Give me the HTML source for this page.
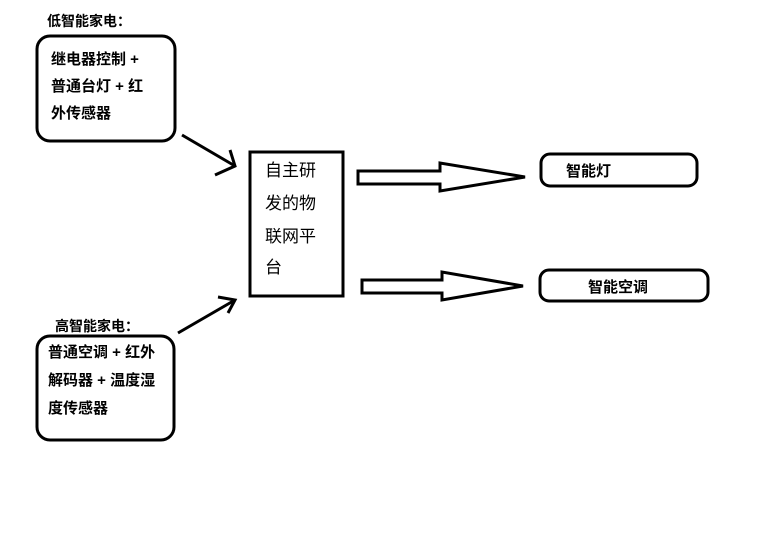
<!DOCTYPE html>
<html><head><meta charset="utf-8"><style>
html,body{margin:0;padding:0;background:#fff;}
svg{display:block;}
text{font-family:"Liberation Sans","Noto Sans CJK SC","WenQuanYi Zen Hei",sans-serif;fill:#000;}
.b{font-weight:bold;font-size:15px;}
.n{font-size:17px;}
</style></head><body>
<svg width="768" height="556" viewBox="0 0 768 556" xmlns="http://www.w3.org/2000/svg">
<g fill="none" stroke="#000" stroke-width="3" stroke-linejoin="miter">
<rect x="37" y="36" width="138" height="105" rx="13"/>
<rect x="37" y="336" width="137" height="104" rx="13"/>
<rect x="250" y="152" width="93" height="144"/>
<rect x="541" y="154" width="156" height="32" rx="9"/>
<rect x="540" y="270" width="168" height="31" rx="9"/>
<line x1="182" y1="135" x2="235" y2="166"/>
<polyline points="215,175 235,166 230,150"/>
<line x1="178" y1="333" x2="235" y2="300"/>
<polyline points="218,297 235,300 228,313"/>
<polygon points="358,171 440,171 440,163 525,177 440,191 440,184 358,184"/>
<polygon points="362,280 442,280 442,272 523,286 442,300 442,293 362,293"/>
</g>
<text class="b" x="47" y="26" style="font-size:14px">低智能家电：</text>
<text class="b" x="51" y="64">继电器控制 +</text>
<text class="b" x="51" y="91">普通台灯 + 红</text>
<text class="b" x="51" y="118">外传感器</text>
<text class="b" x="55" y="331" style="font-size:14px">高智能家电：</text>
<text class="b" x="48" y="357">普通空调 + 红外</text>
<text class="b" x="48" y="385">解码器 + 温度湿</text>
<text class="b" x="48" y="413">度传感器</text>
<text class="n" x="265" y="176">自主研</text>
<text class="n" x="265" y="209">发的物</text>
<text class="n" x="265" y="242">联网平</text>
<text class="n" x="265" y="273">台</text>
<text class="b" x="566" y="176">智能灯</text>
<text class="b" x="588" y="292">智能空调</text>
</svg>
</body></html>
